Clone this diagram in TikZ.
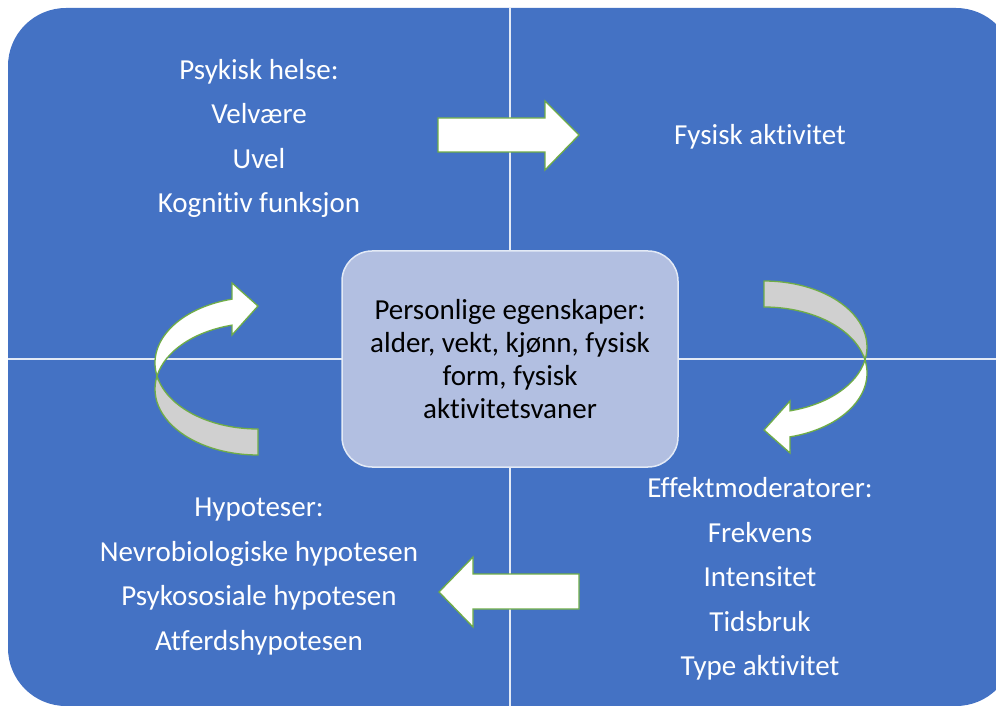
\documentclass[tikz,border=0pt]{standalone}
\usepackage{fontspec}
\setmainfont{Carlito}[Ligatures={NoCommon}]
\definecolor{quadblue}{RGB}{68,114,196}
\definecolor{centerfill}{RGB}{178,191,225}
\definecolor{arrowgreen}{RGB}{112,173,71}
\definecolor{backgray}{RGB}{208,208,208}
\tikzset{
  quadtext/.style={text=white, align=center, font=\fontsize{29}{44.5}\selectfont},
  centerbox/.style={draw=white!85!quadblue, line width=1.5pt, fill=centerfill, rounded corners=30pt,
    minimum width=336pt, minimum height=216pt, align=center,
    font=\fontsize{29}{33}\selectfont, text=black},
  blockarrow/.style={fill=white, draw=arrowgreen, line width=1.3pt, line join=miter},
  backface/.style={fill=backgray, draw=arrowgreen, line width=1.3pt},
  divider/.style={draw=white!85!quadblue, line width=2pt}
}
\begin{document}
\begin{tikzpicture}[x=1pt,y=1pt]
\useasboundingbox (0,0) rectangle (996,705);
\begin{scope}
\clip (0,0) rectangle (996,705);
% background quadrants
\fill[quadblue, rounded corners=58pt] (8,-1) rectangle (1014,697);
\draw[divider] (510,-1) -- (510,697);
\draw[divider] (8,346) -- (1014,346);
\end{scope}

% texts
\node[quadtext] (psyk) at (259,566.5) {Psykisk helse:\\Velvære\\Uvel\\Kognitiv funksjon};
\node[quadtext] (fys) at (760,568) {Fysisk aktivitet};
\node[quadtext] (hyp) at (259,128.5) {Hypoteser:\\Nevrobiologiske hypotesen\\Psykososiale hypotesen\\Atferdshypotesen};
\node[quadtext] (eff) at (760,126) {Effektmoderatorer:\\Frekvens\\Intensitet\\Tidsbruk\\Type aktivitet};

% center
\node[centerbox] (pers) at (510,346) {Personlige egenskaper:\\alder, vekt, kjønn, fysisk\\form, fysisk\\aktivitetsvaner};

% straight block arrows
\draw[blockarrow] (438,587) -- (545,587) -- (545,604) -- (579,570) -- (545,535) -- (545,553) -- (438,553) -- cycle;
\draw[blockarrow] (579,131) -- (473,131) -- (473,148) -- (439,113) -- (473,78) -- (473,96) -- (579,96) -- cycle;

% curved arrows
\newcommand{\curvedarrow}{%
  \draw[backface] ([shift={(258,316)}]168.6:103 and 66)
     arc[start angle=168.6, end angle=270, x radius=103, y radius=66]
     -- ([shift={(258,342)}]270:103 and 66)
     arc[start angle=270, end angle=191.4, x radius=103, y radius=66] -- cycle;
  \draw[blockarrow] ([shift={(258,342)}]191.4:103 and 66)
     arc[start angle=191.4, end angle=104.6, x radius=103, y radius=66]
     -- (232,422) -- (258,399) -- (232,370)
     -- ([shift={(258,316)}]104.6:103 and 66)
     arc[start angle=104.6, end angle=168.6, x radius=103, y radius=66] -- cycle;
}
\curvedarrow
\begin{scope}[rotate around={180:(511,337)}]
\curvedarrow
\end{scope}
\end{tikzpicture}
\end{document}
